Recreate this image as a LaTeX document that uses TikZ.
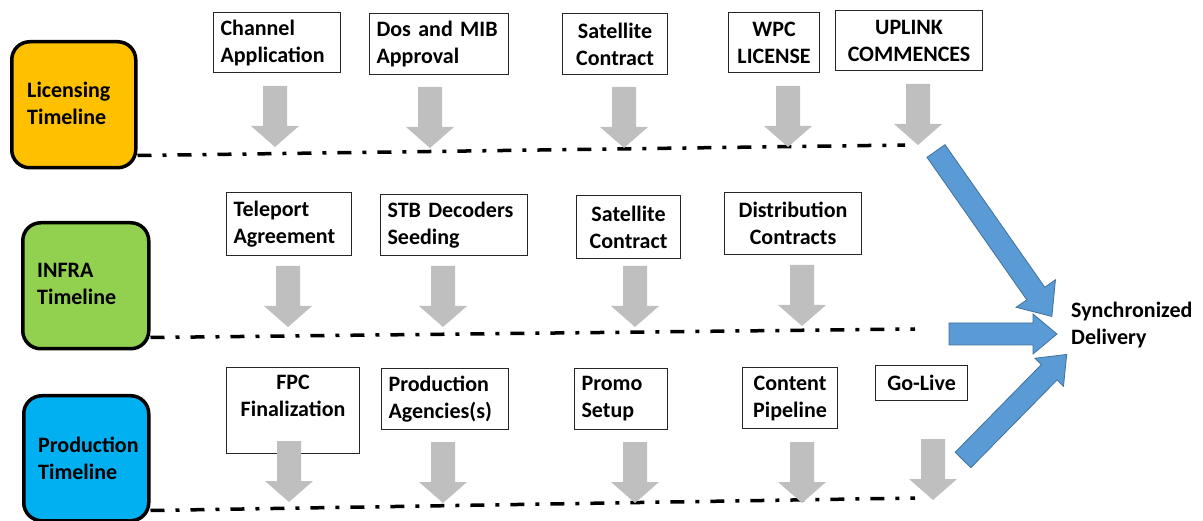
\documentclass[tikz,border=0pt]{standalone}
\usepackage{fontspec}
\setmainfont{Carlito}
\usetikzlibrary{calc}
\definecolor{licC}{HTML}{FFC000}
\definecolor{infC}{HTML}{92D050}
\definecolor{proC}{HTML}{00B0F0}
\definecolor{grayA}{HTML}{BFBFBF}
\definecolor{blueA}{HTML}{5B9BD5}
\definecolor{blueB}{HTML}{41719C}
\begin{document}
\begin{tikzpicture}[x=1pt,y=-1pt,
  every node/.style={font=\bfseries\fontsize{22}{27}\selectfont, text=black},
  tbox/.style={draw=black!85, line width=1.1pt, fill=white, anchor=north west,
     inner xsep=7pt, inner ysep=0pt},
  tlbox/.style={draw=black, line width=3.5pt, rounded corners=18pt, anchor=north west,
     inner sep=0pt},
  tltext/.style={anchor=west, align=left, inner sep=0pt},
  ddot/.style={line width=3.5pt, dash pattern=on 14pt off 11pt on 4pt off 11pt},
  pics/garrow/.style={code={\fill[grayA] (-12,0) -- (12,0) -- (12,40) -- (24,40) -- (0,61) -- (-24,40) -- (-12,40) -- cycle;}},
  pics/barrow/.style n args={3}{code={\filldraw[fill=blueA, draw=blueB, line width=0.8pt]
      (0,-11) -- ({#1-#3},-11) -- ({#1-#3},-#2) -- (#1,0) -- ({#1-#3},#2) -- ({#1-#3},11) -- (0,11) -- cycle;}}
]
\useasboundingbox (0,0) rectangle (1203,521);

% timeline boxes
\node[tlbox, fill=licC, minimum width=124pt, minimum height=126pt] (lic) at (10,40) {};
\node[tltext] (lict) at (27,103) {Licensing\\Timeline};
\node[tlbox, fill=infC, minimum width=126pt, minimum height=126pt] (inf) at (21,221) {};
\node[tltext] (inft) at (37,284) {INFRA\\Timeline};
\node[tlbox, fill=proC, minimum width=125pt, minimum height=125pt] (pro) at (22,394) {};
\node[tltext] (prot) at (38,458) {Production\\Timeline};

% dash-dot timelines
\coordinate (licend) at (905,145);
\coordinate (infend) at (915,329);
\coordinate (proend) at (915,498);
\draw[ddot] ($(lic.south east)+(0,-14)$) -- (licend);
\draw[ddot] ($(inf.south east)+(0,-13)$) -- (infend);
\draw[ddot] ($(pro.south east)+(0,-12)$) -- (proend);

% row 1 boxes
\node[tbox, text width=113pt, minimum height=60pt, align=left] (b11) at (213,12) {Channel\\Application};
\node[tbox, text width=125pt, minimum height=61pt, align=left] (b12) at (369,13) {Dos and MIB\\Approval};
\node[tbox, text width=91pt, minimum height=61pt, align=center] (b13) at (562,13) {Satellite\\Contract};
\node[tbox, text width=77pt, minimum height=60pt, align=center] (b14) at (728,12) {WPC\\LICENSE};
\node[tbox, text width=133pt, minimum height=60pt, align=center] (b15) at (835,10) {UPLINK\\COMMENCES};

% row 2 boxes
\node[tbox, text width=111pt, minimum height=63pt, align=left] (b21) at (226,192) {Teleport\\Agreement};
\node[tbox, text width=133pt, minimum height=61pt, align=left] (b22) at (380,194) {STB Decoders\\Seeding};
\node[tbox, text width=90pt, minimum height=63pt, align=center] (b23) at (576,195) {Satellite\\Contract};
\node[tbox, text width=123pt, minimum height=62pt, align=center] (b24) at (724,192) {Distribution\\Contracts};

% row 3 boxes
\node[tbox, text width=119pt, minimum height=86pt] (b31) at (226,367) {};
\node[anchor=north, align=center, inner sep=0pt] (b31t) at ($(b31.north)+(0,8)$) {FPC\\Finalization};
\node[tbox, text width=113pt, minimum height=61pt, align=left] (b32) at (381,368) {Production\\Agencies(s)};
\node[tbox, text width=79pt, minimum height=61pt, align=left] (b33) at (574,368) {Promo\\Setup};
\node[tbox, text width=81pt, minimum height=61pt, align=center] (b34) at (742,367) {Content\\Pipeline};
\node[tbox, text width=78pt, minimum height=35pt, align=center] (b35) at (875,365) {Go-Live};

% gray arrows
\pic at (275,86) {garrow};
\pic at (430,87) {garrow};
\pic at (624,87) {garrow};
\pic at (788,86) {garrow};
\pic at (918,84) {garrow};
\pic at (288,266) {garrow};
\pic at (443,266) {garrow};
\pic at (635,266) {garrow};
\pic at (802,265) {garrow};
\pic at (289,441) {garrow};
\pic at (443,442) {garrow};
\pic at (635,442) {garrow};
\pic at (802,442) {garrow};
\pic at (933,439) {garrow};

% blue arrows
\pic[rotate=-55] at (936,151) {barrow={202}{24}{28}};
\pic at (949,334) {barrow={108}{20}{24}};
\pic[rotate=45.5] at (963,460) {barrow={148}{20}{25}};

\node[anchor=west, align=left, inner sep=0pt] (sync) at (1071,325) {Synchronized\\Delivery};
\end{tikzpicture}
\end{document}
